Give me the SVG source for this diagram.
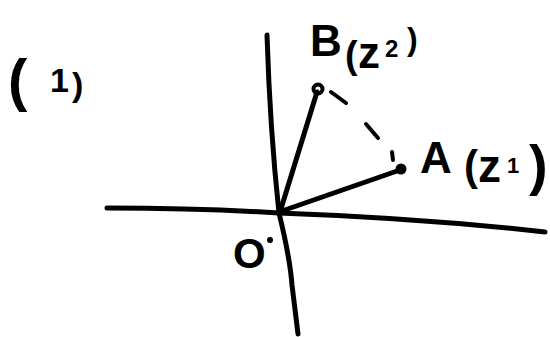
<svg xmlns="http://www.w3.org/2000/svg" width="550" height="337" viewBox="0 0 550 337">
<style>
.ln{fill:none;stroke:#000;stroke-width:5;stroke-linecap:round;stroke-linejoin:round}
.ds{fill:none;stroke:#000;stroke-width:4;stroke-linecap:round}
.t{font-family:"Liberation Sans",Arial,sans-serif;font-weight:bold;fill:#000}
</style>
<rect width="550" height="337" fill="#fff"/>
<g id="axes">
<path class="ln" d="M267,35 Q270,130 279,213 Q290,258 292,285 L298,334"/>
<path class="ln" d="M107,208 Q200,208 279,213 Q420,218 545,232"/>
</g>
<g id="connectors">
<path id="OB" class="ln" d="M280,212 L317,92"/>
<path id="OA" class="ln" d="M282,211 L400,170"/>
<path id="AB" class="ds" d="M331,92 L346,103 M366,124 L378,138 M392,152 L393,160"/>
</g>
<g id="label-1">
<text class="t" x="8" y="100" font-size="58">(</text>
<text class="t" x="50" y="92" font-size="34">1</text>
<text class="t" x="72" y="96" font-size="34">)</text>
</g>
<g id="node-O">
<text class="t" x="233" y="268" font-size="42">O</text>
<circle cx="270" cy="240" r="3" fill="#000"/>
</g>
<g id="node-B">
<circle cx="318" cy="89" r="4.5" fill="none" stroke="#000" stroke-width="4"/>
<text class="t" y="56" font-size="44"><tspan x="310">B</tspan><tspan x="345" y="68" font-size="38">(</tspan><tspan x="358" y="68" font-size="44">z</tspan><tspan x="385" y="57" font-size="24">2</tspan><tspan x="407" y="50" font-size="32">)</tspan></text>
</g>
<g id="node-A">
<circle cx="401" cy="169" r="5.5" fill="#000"/>
<text class="t" y="173" font-size="44"><tspan x="420">A</tspan><tspan x="464" y="180" font-size="42">(</tspan><tspan x="478" y="182" font-size="46">z</tspan><tspan x="507" y="173" font-size="22">1</tspan><tspan x="529" y="184" font-size="56">)</tspan></text>
</g>
</svg>
